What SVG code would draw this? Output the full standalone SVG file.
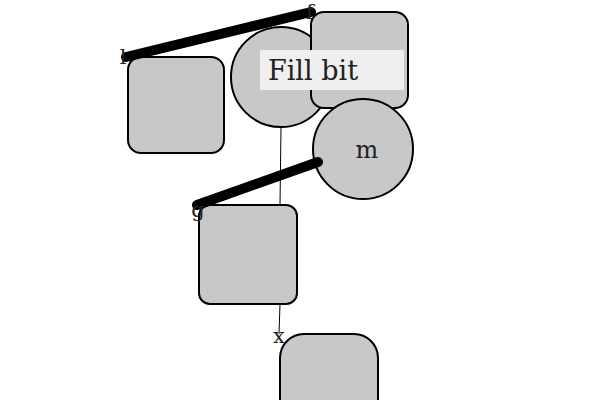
<svg xmlns="http://www.w3.org/2000/svg" width="600" height="400" viewBox="0 0 600 400">
<style>
.n{fill:#c8c8c8;stroke:#000;stroke-width:2}
.t{font-family:"DejaVu Serif","Liberation Serif",serif;fill:#222}
.thick{stroke:#000;stroke-width:10;stroke-linecap:round;fill:none}
.thin{stroke:#000;stroke-width:1;fill:none}
</style>
<rect width="600" height="400" fill="#fff"/>
<g id="connectors">
<line class="thin" x1="281" y1="127" x2="280" y2="205"/>
<line class="thin" x1="280" y1="304" x2="279" y2="334"/>
</g>
<g id="nodeA"><rect class="n" x="128" y="57" width="96" height="96" rx="13"/></g>
<g id="nodeB"><circle class="n" cx="281" cy="77" r="50"/></g>
<g id="nodeC"><rect class="n" x="311" y="12" width="97" height="96" rx="13"/></g>
<g id="nodeM"><circle class="n" cx="363" cy="149" r="50"/><text class="t" x="367" y="158" font-size="24" text-anchor="middle">m</text></g>
<g id="nodeD"><rect class="n" x="199" y="205" width="98" height="99" rx="11"/></g>
<g id="nodeE"><rect class="n" x="280" y="334" width="98" height="100" rx="24"/></g>
<g id="thickConnectors">
<line class="thick" x1="126" y1="57" x2="311" y2="12"/>
<line class="thick" x1="197" y1="205" x2="318" y2="162"/>
<text class="t" x="123" y="64" font-size="21" text-anchor="middle">l</text>
<text class="t" x="310" y="19" font-size="21" text-anchor="middle">f</text>
<text class="t" x="198" y="217" font-size="21" text-anchor="middle">g</text>
<text class="t" x="279" y="343" font-size="21" text-anchor="middle">x</text>
</g>
<g id="label">
<rect x="260" y="50" width="144" height="40" fill="#efefef"/>
<text class="t" x="268" y="80" font-size="27">Fill bit</text>
</g>
</svg>
